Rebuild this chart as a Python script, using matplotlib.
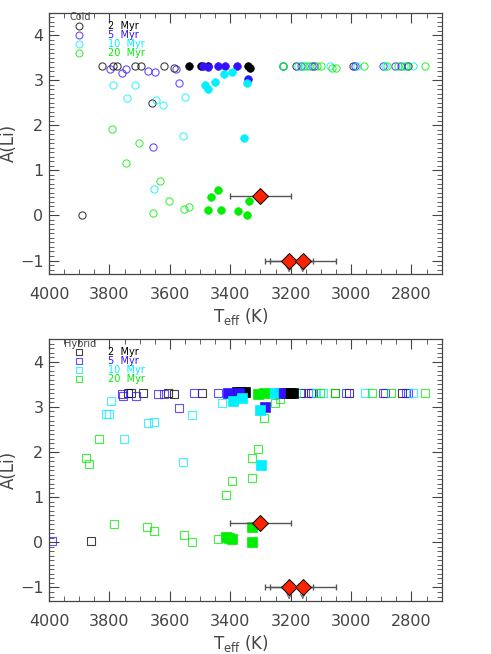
import matplotlib
matplotlib.use( 'Agg' )
import matplotlib.pyplot as plt
from matplotlib.ticker import MultipleLocator

# Lithium abundance vs effective temperature, cold and hybrid models

# cold accretion models (top panel)
cold_2_open_T = [ 3826, 3787, 3776, 3716, 3694, 3620, 3585, 3658, 3892, 3225, 3183, 2994, 2810 ]
cold_2_open_A = [ 3.31, 3.31, 3.31, 3.31, 3.31, 3.32, 3.28, 2.50, 0.01, 3.31, 3.31, 3.31, 3.31 ]
cold_2_fill_T = [ 3538, 3497, 3473, 3340, 3335 ]
cold_2_fill_A = [ 3.32, 3.32, 3.32, 3.32, 3.28 ]

cold_5_open_T = [ 3798, 3758, 3745, 3673, 3650, 3578, 3569, 3655, 3165, 3130, 3122, 2986, 2895, 2853, 2834 ]
cold_5_open_A = [ 3.24, 3.16, 3.24, 3.20, 3.18, 3.26, 2.93, 1.53, 3.31, 3.31, 3.31, 3.31, 3.31, 3.31, 3.31 ]
cold_5_fill_T = [ 3490, 3473, 3441, 3418, 3379, 3340 ]
cold_5_fill_A = [ 3.31, 3.29, 3.31, 3.31, 3.31, 3.02 ]

cold_10_open_T = [ 3787, 3716, 3743, 3646, 3622, 3550, 3558, 3652, 3225, 3175, 3148, 3071, 2981, 2887, 2826, 2796 ]
cold_10_open_A = [ 2.90, 2.89, 2.61, 2.57, 2.45, 2.63, 1.76, 0.59, 3.31, 3.31, 3.31, 3.31, 3.31, 3.31, 3.31, 3.31 ]
cold_10_fill_T = [ 3483, 3474, 3450, 3422, 3394, 3344, 3354 ]
cold_10_fill_A = [ 2.89, 2.80, 2.96, 3.13, 3.19, 2.95, 1.72 ]

cold_20_open_T = [ 3791, 3701, 3745, 3631, 3602, 3656, 3554, 3535, 3225, 3157, 3140, 3113, 3099, 3063, 3049, 2958, 2880, 2845, 2817, 2755 ]
cold_20_open_A = [ 1.92, 1.61, 1.16, 0.77, 0.32, 0.05, 0.15, 0.18, 3.31, 3.31, 3.31, 3.31, 3.31, 3.27, 3.27, 3.31, 3.31, 3.31, 3.31, 3.31 ]
cold_20_fill_T = [ 3439, 3464, 3475, 3432, 3374, 3345, 3338 ]
cold_20_fill_A = [ 0.56, 0.40, 0.13, 0.11, 0.10, 0.01, 0.33 ]

# hybrid accretion models (bottom panel)
hyb_2_open_T = [ 3738, 3727, 3688, 3606, 3587, 3495, 3861, 3165, 3134, 3054, 3007, 2831 ]
hyb_2_open_A = [ 3.30, 3.30, 3.30, 3.30, 3.28, 3.30, 0.02, 3.32, 3.32, 3.31, 3.32, 3.32 ]
hyb_2_fill_T = [ 3379, 3366, 3352, 3214, 3203, 3192 ]
hyb_2_fill_A = [ 3.33, 3.33, 3.33, 3.30, 3.30, 3.30 ]

hyb_5_open_T = [ 3760, 3755, 3712, 3639, 3620, 3520, 3440, 3570, 3990, 3143, 3126, 3016, 2895, 2887, 2817, 2810 ]
hyb_5_open_A = [ 3.28, 3.24, 3.24, 3.28, 3.28, 3.30, 3.30, 2.97, 0.02, 3.32, 3.32, 3.32, 3.32, 3.32, 3.32, 3.32 ]
hyb_5_fill_T = [ 3409, 3371, 3236, 3286 ]
hyb_5_fill_A = [ 3.30, 3.32, 3.30, 3.01 ]

hyb_10_open_T = [ 3796, 3812, 3802, 3672, 3652, 3752, 3526, 3558, 3426, 3181, 3115, 3093, 2955, 2796 ]
hyb_10_open_A = [ 3.13, 2.85, 2.84, 2.64, 2.67, 2.30, 2.82, 1.79, 3.08, 3.32, 3.32, 3.32, 3.32, 3.32 ]
hyb_10_fill_T = [ 3391, 3361, 3259, 3300, 3297 ]
hyb_10_fill_A = [ 3.13, 3.19, 3.30, 2.94, 1.71 ]

hyb_20_open_T = [ 3834, 3878, 3867, 3785, 3677, 3652, 3553, 3525, 3442, 3415, 3394, 3329, 3328, 3307, 3289, 3253, 3236, 3104, 3054, 2930, 2867, 2755 ]
hyb_20_open_A = [ 2.30, 1.88, 1.73, 0.41, 0.33, 0.25, 0.16, 0.01, 0.08, 1.04, 1.37, 1.42, 1.87, 2.07, 2.75, 3.08, 3.18, 3.32, 3.32, 3.32, 3.32, 3.32 ]
hyb_20_fill_T = [ 3307, 3289, 3329, 3329, 3415, 3405, 3393 ]
hyb_20_fill_A = [ 3.29, 3.31, 0.33, 0.00, 0.11, 0.10, 0.08 ]

# observed stars
obs_T = [ 3300, 3205, 3160 ]
obs_A = [ 0.44, -1.0, -1.0 ]
obs_err = [ 100, 80, 110 ]
obs_upper = [ False, True, True ]

ages = [ '2 Myr', '5 Myr', '10 Myr', '20 Myr' ]
colors = [ 'black', '#3311ff', '#00f0ff', '#00ee00' ]

panels = [
	( 'Cold', 'o', [
		( cold_2_open_T, cold_2_open_A, cold_2_fill_T, cold_2_fill_A ),
		( cold_5_open_T, cold_5_open_A, cold_5_fill_T, cold_5_fill_A ),
		( cold_10_open_T, cold_10_open_A, cold_10_fill_T, cold_10_fill_A ),
		( cold_20_open_T, cold_20_open_A, cold_20_fill_T, cold_20_fill_A ) ] ),
	( 'Hybrid', 's', [
		( hyb_2_open_T, hyb_2_open_A, hyb_2_fill_T, hyb_2_fill_A ),
		( hyb_5_open_T, hyb_5_open_A, hyb_5_fill_T, hyb_5_fill_A ),
		( hyb_10_open_T, hyb_10_open_A, hyb_10_fill_T, hyb_10_fill_A ),
		( hyb_20_open_T, hyb_20_open_A, hyb_20_fill_T, hyb_20_fill_A ) ] ),
]

plt.rcParams['font.family'] = 'DejaVu Sans'
text_col = '#444444'

fig = plt.figure( figsize = ( 4.91, 6.54 ), dpi = 100 )
ax_boxes = [ [ 0.0998, 0.581, 0.7998, 0.3996 ], [ 0.0998, 0.081, 0.7998, 0.4002 ] ]

for box, ( name, mk, series ) in zip( ax_boxes, panels ):
	ax = fig.add_axes( box )

	for ( oT, oA, fT, fA ), col in zip( series, colors ):
		ax.plot( oT, oA, linestyle = 'none', marker = mk, markersize = 5.2 if mk == 'o' else 5.5,
			markerfacecolor = 'none', markeredgecolor = col, markeredgewidth = 0.8, alpha = 0.75 )
	for ( oT, oA, fT, fA ), col in zip( series, colors ):
		ax.plot( fT, fA, linestyle = 'none', marker = mk, markersize = 5.5 if mk == 'o' else 6.5,
			markerfacecolor = col, markeredgecolor = col, markeredgewidth = 0.5 )

	# upper limit arrows under the two undetected stars
	for T, A, up in zip( obs_T, obs_A, obs_upper ):
		if up:
			ax.annotate( '', xy = ( T, -1.27 ), xytext = ( T, A ),
				arrowprops = dict( arrowstyle = '->', color = '#777777', lw = 0.8, shrinkA = 0, shrinkB = 0,
				mutation_scale = 8 ), zorder = 3 )

	ax.errorbar( obs_T, obs_A, xerr = obs_err, linestyle = 'none', ecolor = '#555555',
		elinewidth = 1.0, capsize = 2.5, capthick = 1.0, zorder = 4 )
	ax.plot( obs_T, obs_A, linestyle = 'none', marker = 'D', markersize = 7.8,
		markerfacecolor = '#ff2200', markeredgecolor = 'black', markeredgewidth = 0.7, zorder = 5 )

	# legend drawn by hand, IDL style
	ax.text( 0.08, 0.982, name, transform = ax.transAxes, ha = 'center', va = 'center',
		fontsize = 7, color = text_col )
	for i, ( lab, col ) in enumerate( zip( ages, colors ) ):
		yy = 0.950 - i * 0.0345
		ax.plot( [ 0.0764 ], [ yy ], transform = ax.transAxes, linestyle = 'none', marker = mk,
			markersize = 5, markerfacecolor = 'none', markeredgecolor = col, markeredgewidth = 0.8,
			alpha = 0.75, clip_on = False )
		ax.text( 0.150, yy, lab.replace( ' ', '  ' ), transform = ax.transAxes, ha = 'left', va = 'center',
			fontsize = 7, color = col )

	ax.set_xlim( 4000, 2700 )
	ax.set_ylim( -1.3, 4.5 )
	ax.xaxis.set_major_locator( MultipleLocator( 200 ) )
	ax.xaxis.set_minor_locator( MultipleLocator( 50 ) )
	ax.yaxis.set_major_locator( MultipleLocator( 1 ) )
	ax.yaxis.set_minor_locator( MultipleLocator( 0.1 ) )
	ax.tick_params( which = 'both', direction = 'in', top = True, right = True, colors = text_col,
		labelsize = 11.5 )
	ax.tick_params( which = 'major', length = 7, width = 0.8 )
	ax.tick_params( which = 'minor', length = 3.5, width = 0.6 )
	ax.tick_params( axis = 'x', pad = 9 )
	ax.tick_params( axis = 'y', pad = 4 )
	for sp in ax.spines.values():
		sp.set_color( text_col )
		sp.set_linewidth( 0.9 )

	ax.set_xlabel( r'T$_{\rm eff}$ (K)', fontsize = 12, color = text_col )
	ax.xaxis.set_label_coords( 0.489, -0.122 )
	ax.set_ylabel( 'A(Li)', fontsize = 12, color = text_col )
	ax.yaxis.set_label_coords( -0.078, 0.5 )

fig.savefig( 'out.png', dpi = 100 )
